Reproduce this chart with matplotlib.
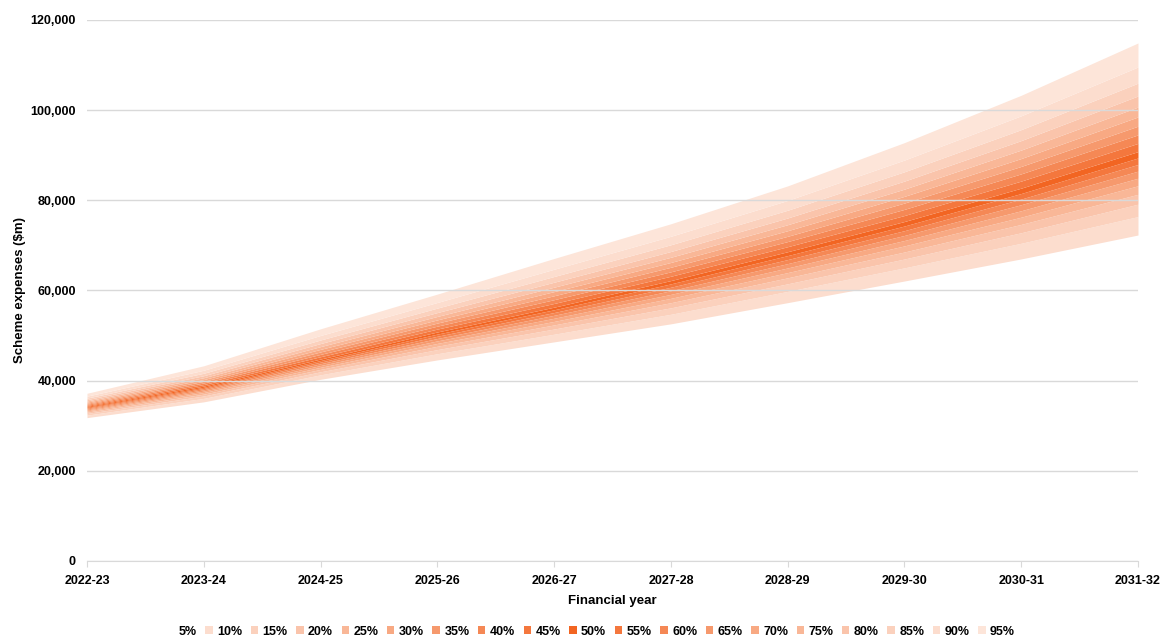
import matplotlib
matplotlib.use("Agg")
import matplotlib.pyplot as plt
from matplotlib.patches import Patch
import numpy as np

plt.rcParams['font.family'] = ['Liberation Sans', 'DejaVu Sans']

years = ["2022-23", "2023-24", "2024-25", "2025-26", "2026-27",
         "2027-28", "2028-29", "2029-30", "2030-31", "2031-32"]

percentile_labels = ["5%", "10%", "15%", "20%", "25%", "30%", "35%", "40%", "45%", "50%",
                     "55%", "60%", "65%", "70%", "75%", "80%", "85%", "90%", "95%"]

# Scheme expenses ($m) by percentile, one list per year (5% ... 95%)
y2022 = [31800, 32350, 32730, 33020, 33280, 33500, 33720, 33920, 34110, 34300,
         34520, 34750, 34980, 35230, 35490, 35790, 36130, 36560, 37200]
y2023 = [35300, 36070, 36600, 37010, 37370, 37680, 37980, 38260, 38530, 38800,
         39140, 39490, 39850, 40240, 40650, 41100, 41640, 42310, 43300]
y2024 = [40300, 41290, 41970, 42500, 42960, 43360, 43750, 44110, 44460, 44800,
         45310, 45830, 46370, 46940, 47550, 48230, 49020, 50020, 51500]
y2025 = [44600, 45970, 46890, 47630, 48260, 48820, 49350, 49850, 50330, 50800,
         51440, 52090, 52770, 53480, 54240, 55100, 56090, 57340, 59200]
y2026 = [48600, 50300, 51450, 52360, 53140, 53840, 54500, 55110, 55720, 56300,
         57120, 57960, 58830, 59750, 60730, 61830, 63100, 64710, 67100]
y2027 = [52600, 54720, 56150, 57290, 58260, 59140, 59950, 60720, 61470, 62200,
         63160, 64140, 65150, 66220, 67370, 68650, 70140, 72020, 74800]
y2028 = [57300, 59800, 61480, 62810, 63970, 65000, 65960, 66860, 67740, 68600,
         69710, 70850, 72020, 73260, 74590, 76080, 77800, 79970, 83200]
y2029 = [62100, 65020, 66980, 68540, 69890, 71090, 72210, 73270, 74300, 75300,
         76630, 77990, 79390, 80880, 82480, 84260, 86330, 88930, 92800]
y2030 = [67000, 70470, 72810, 74660, 76260, 77690, 79030, 80280, 81510, 82700,
         84270, 85870, 87520, 89270, 91150, 93250, 95680, 98750, 103300]
y2031 = [72300, 76390, 79140, 81330, 83220, 84900, 86470, 87950, 89390, 90800,
         92630, 94510, 96440, 98490, 100680, 103140, 105980, 109570, 114900]

table = np.array([y2022, y2023, y2024, y2025, y2026, y2027, y2028, y2029, y2030, y2031]).T

# colours: blend of orange with white
orange = np.array([242, 101, 34]) / 255.0
alphas = [0.0, 0.22, 0.30, 0.38, 0.47, 0.56, 0.66, 0.77, 0.88, 1.0,
          0.88, 0.77, 0.66, 0.56, 0.47, 0.38, 0.30, 0.22, 0.17]
colors = [tuple(1 - a * (1 - orange)) for a in alphas]

fig = plt.figure(figsize=(11.63, 6.38), dpi=100)
ax = fig.add_axes([0.0748, 0.1207, 0.9037, 0.848])

x = np.arange(len(years))
for i in range(1, len(percentile_labels)):
    ax.fill_between(x, table[i - 1], table[i], color=colors[i], lw=0, zorder=2)

ax.set_xlim(0, len(years) - 1)
ax.set_ylim(0, 120000)
ax.set_yticks(np.arange(0, 120001, 20000))
ax.set_yticklabels([f"{v:,}" for v in range(0, 120001, 20000)])
ax.set_xticks(x)
ax.set_xticklabels(years)

ax.grid(axis='y', color='#d9d9d9', lw=1, zorder=3)
ax.set_axisbelow(False)
for s in ['top', 'right', 'left']:
    ax.spines[s].set_visible(False)
ax.spines['bottom'].set_color('#d9d9d9')
ax.spines['bottom'].set_zorder(3)
ax.tick_params(axis='y', length=0, pad=8, labelsize=9)
ax.tick_params(axis='x', length=4, color='#d9d9d9', pad=6, labelsize=9)
for lab in ax.get_xticklabels() + ax.get_yticklabels():
    lab.set_fontweight('bold')

ax.set_xlabel("Financial year", fontsize=9.5, fontweight='bold', labelpad=6)
ax.set_ylabel("Scheme expenses ($m)", fontsize=9.5, fontweight='bold', labelpad=3)

handles = [Patch(facecolor=colors[i] if i > 0 else 'white', edgecolor='none', label=lab)
           for i, lab in enumerate(percentile_labels)]
fig.legend(handles=handles, loc='center', bbox_to_anchor=(0.508, 0.01), ncol=19,
           frameon=False, handlelength=0.6, handleheight=0.6,
           handletextpad=0.35, columnspacing=0.68, prop={'weight': 'bold', 'size': 9})

fig.savefig("out.png", dpi=100)
